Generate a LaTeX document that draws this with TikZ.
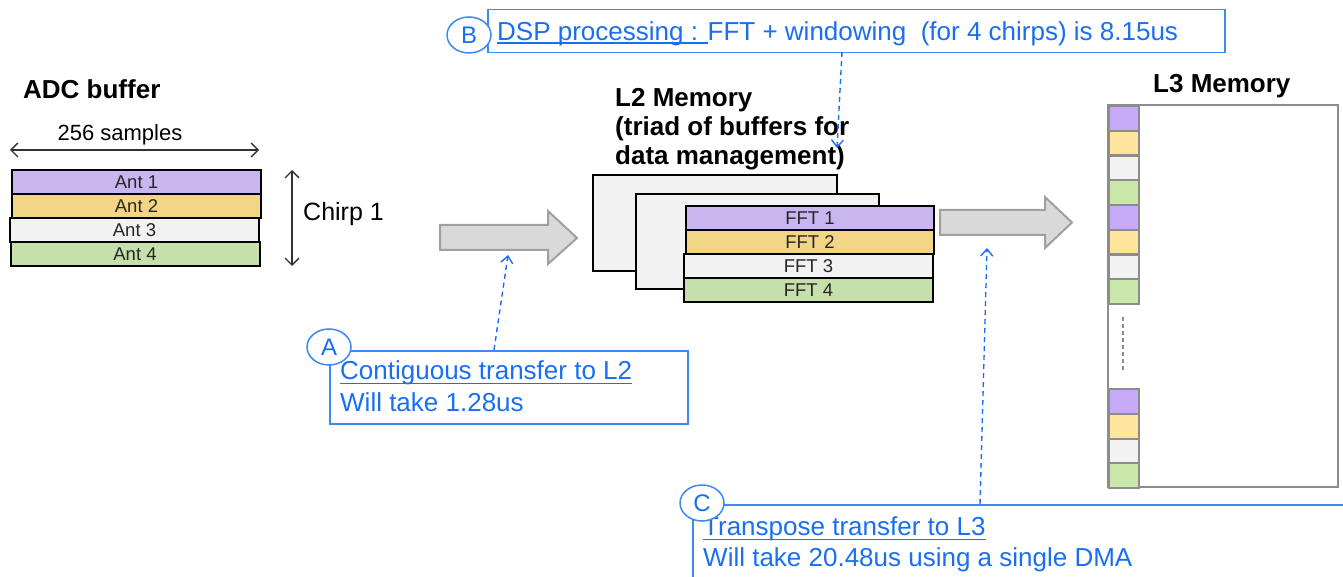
\documentclass[tikz,border=0pt]{standalone}
\usepackage{fontspec}
\setmainfont{Liberation Sans}
\usetikzlibrary{shapes.geometric,arrows.meta}
\definecolor{cpurple}{HTML}{C8B6EE}
\definecolor{cyellow}{HTML}{F2D586}
\definecolor{cgrey}{HTML}{F2F2F2}
\definecolor{cgreen}{HTML}{C6E0AB}
\definecolor{lpurple}{HTML}{C7AAF7}
\definecolor{lyellow}{HTML}{FFE59C}
\definecolor{lgreen}{HTML}{CAE7AA}
\definecolor{lborder}{HTML}{8C8C8C}
\definecolor{callblue}{HTML}{1A6EF0}
\definecolor{boxblue}{HTML}{3D8BF2}
\definecolor{arrfill}{HTML}{D9D9D9}
\definecolor{arrdraw}{HTML}{A0A0A0}
\newsavebox\ulbox
\newcommand\myul[2][-5pt]{\sbox\ulbox{#2}\rlap{\rule[#1]{\wd\ulbox}{1.5pt}}\usebox\ulbox}
\begin{document}
\begin{tikzpicture}[x=1pt,y=-1pt,
  titletext/.style={inner sep=0, anchor=base west, font=\bfseries\fontsize{26}{30}\selectfont},
  plaintext/.style={inner sep=0, font=\fontsize{22}{26}\selectfont},
  bar/.style={draw=black, line width=2pt, inner sep=0, minimum width=249pt, minimum height=24pt,
    text=black!85, font=\fontsize{18.5}{20}\selectfont},
  backbox/.style={draw=black, line width=2pt, fill=cgrey, inner sep=0},
  l3sq/.style={draw=lborder, line width=2.2pt, inner sep=0, minimum width=30pt, minimum height=24.75pt},
  blockarrow/.style={fill=arrfill, draw=arrdraw, line width=2pt, line join=miter},
  dimarrow/.style={line width=1.3pt, black!80, {Straight Barb[length=7pt,width=14pt]}-{Straight Barb[length=7pt,width=14pt]}},
  calbox/.style={draw=boxblue, line width=1.5pt, inner sep=0},
  caltext/.style={inner sep=0, anchor=base west, text=callblue, font=\fontsize{26}{30}\selectfont},
  calcirc/.style={ellipse, draw=boxblue, fill=white, line width=1.5pt, minimum width=44pt, minimum height=36pt,
    inner sep=0, text=callblue, font=\fontsize{24}{26}\selectfont},
  dashconn/.style={draw=callblue, line width=1.4pt, dash pattern=on 5pt off 4pt, -{Straight Barb[length=7pt,width=12pt]}}
]
\useasboundingbox (0,0) rectangle (1343,577);
\clip (0,0) rectangle (1343,577);

% ---------- ADC buffer ----------
\node[titletext] (adct) at (23,99) {ADC buffer};
\node[plaintext, anchor=base] (samp) at (120,141) {256 samples};
\coordinate (sL) at (10,150);
\coordinate (sR) at (259,150);
\draw[dimarrow] (sL) -- (sR);

\node[bar, fill=cpurple] (ant1) at (136.5,182) {Ant 1};
\node[bar, fill=cyellow] (ant2) at (136.5,206) {Ant 2};
\node[bar, fill=cgrey]   (ant3) at (134.5,230) {Ant 3};
\node[bar, fill=cgreen]  (ant4) at (135,254.5) {Ant 4};

\coordinate (cT) at (292,170);
\coordinate (cB) at (292,266);
\draw[dimarrow] (cT) -- (cB);
\node[inner sep=0, anchor=base west, font=\fontsize{25}{28}\selectfont] (chirp) at (303,221) {Chirp 1};

% ---------- block arrows ----------
\draw[blockarrow] (440,225) -- (548,225) -- (548,211) -- (577,238) -- (548,264) -- (548,250) -- (440,250) -- cycle;
\draw[blockarrow] (940,210) -- (1045,210) -- (1045,197) -- (1072,222.5) -- (1045,248) -- (1045,235) -- (940,235) -- cycle;

% ---------- L2 memory ----------
\node[titletext] (l2t1) at (615,107) {L2 Memory};
\node[titletext] (l2t2) at (615,136) {(triad of buffers for};
\node[titletext] (l2t3) at (615,165) {data management)};

\node[backbox, minimum width=244pt, minimum height=96pt] (bk1) at (715,223) {};
\node[backbox, minimum width=243pt, minimum height=95pt] (bk2) at (757.5,241.5) {};
\node[bar, fill=cpurple, minimum width=248pt] (fft1) at (810,218) {FFT 1};
\node[bar, fill=cyellow, minimum width=248pt] (fft2) at (810,242) {FFT 2};
\node[bar, fill=cgrey] (fft3) at (808.5,266) {FFT 3};
\node[bar, fill=cgreen] (fft4) at (808.5,290) {FFT 4};

% ---------- L3 memory ----------
\node[titletext] (l3t) at (1153,93) {L3 Memory};
\node[draw=lborder, line width=2.5pt, inner sep=0, minimum width=230pt, minimum height=382pt] (l3) at (1223,296) {};
\foreach \c [count=\i from 0] in {lpurple,lyellow,cgrey,lgreen,lpurple,lyellow,cgrey,lgreen}
  \node[l3sq, fill=\c, anchor=north west] (sq\i) at (1108,{105+\i*24.75}) {};
\foreach \c [count=\i from 0] in {lpurple,lyellow,cgrey,lgreen}
  \node[l3sq, fill=\c, anchor=north west] (sqb\i) at (1108,{388+\i*24.75}) {};
\coordinate (dT) at (1123,317);
\coordinate (dB) at (1123,370);
\draw[lborder, line width=1.2pt, dash pattern=on 4pt off 3pt] (dT) -- (dB);

% ---------- callout B ----------
\node[calbox, anchor=north west, minimum width=737pt, minimum height=43pt] (boxB) at (487,9) {};
\node[caltext] (tB) at (497,41) {\myul[-3pt]{DSP processing : }FFT + windowing\ \ (for 4 chirps) is 8.15us};
\node[calcirc] (cirB) at (469,35) {B};
\coordinate (bS) at (842,52);
\coordinate (bT) at (837,148);
\draw[dashconn] (bS) -- (bT);

% ---------- callout A ----------
\node[calbox, anchor=north west, minimum width=358pt, minimum height=73pt] (boxA) at (329,350) {};
\node[caltext] (tA1) at (340,379) {\myul{Contiguous transfer to L2}};
\node[caltext] (tA2) at (340,411) {Will take 1.28us};
\node[calcirc] (cirA) at (329,347) {A};
\coordinate (aS) at (494,350);
\coordinate (aT) at (508,255);
\draw[dashconn] (aS) -- (aT);

% ---------- callout C ----------
\node[calbox, anchor=north west, minimum width=700pt, minimum height=120pt] (boxC) at (692,504) {};
\node[caltext] (tC1) at (703,535) {\myul{Transpose transfer to L3}};
\node[caltext] (tC2) at (703,566) {Will take 20.48us using a single DMA};
\node[calcirc] (cirC) at (702,503) {C};
\coordinate (cS) at (980,504);
\coordinate (cTg) at (987,248);
\draw[dashconn] (cS) -- (cTg);
\end{tikzpicture}
\end{document}
